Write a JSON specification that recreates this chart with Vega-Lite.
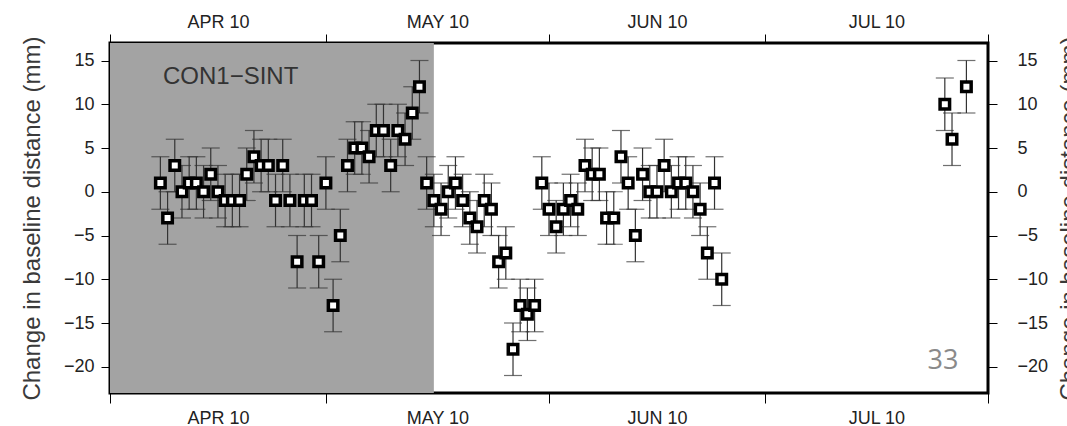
{
  "$schema": "https://vega.github.io/schema/vega-lite/v6.json",
  "width": 878,
  "height": 350,
  "autosize": {"type": "none"},
  "padding": {"left": 110, "top": 43, "right": 79, "bottom": 33},
  "background": "white",
  "config": {
    "font": "Liberation Sans",
    "view": {"stroke": "black", "strokeWidth": 3},
    "axis": {"grid": false, "domain": false, "tickColor": "black", "tickWidth": 1, "labelColor": "#222", "labelFont": "Liberation Sans", "labelFontSize": 18, "titleFont": "Liberation Sans", "titleFontWeight": "normal", "titleColor": "#3a3a3a", "titleFontSize": 24, "labelOverlap": false, "labelFlush": false}
  },
  "datasets": {
    "obs": [
      {"date": "2010-04-08", "value": 1, "err": 3},
      {"date": "2010-04-09", "value": -3, "err": 3},
      {"date": "2010-04-10", "value": 3, "err": 3},
      {"date": "2010-04-11", "value": 0, "err": 3},
      {"date": "2010-04-12", "value": 1, "err": 3},
      {"date": "2010-04-13", "value": 1, "err": 3},
      {"date": "2010-04-14", "value": 0, "err": 3},
      {"date": "2010-04-15", "value": 2, "err": 3},
      {"date": "2010-04-16", "value": 0, "err": 3},
      {"date": "2010-04-17", "value": -1, "err": 3},
      {"date": "2010-04-18", "value": -1, "err": 3},
      {"date": "2010-04-19", "value": -1, "err": 3},
      {"date": "2010-04-20", "value": 2, "err": 3},
      {"date": "2010-04-21", "value": 4, "err": 3},
      {"date": "2010-04-22", "value": 3, "err": 3},
      {"date": "2010-04-23", "value": 3, "err": 3},
      {"date": "2010-04-24", "value": -1, "err": 3},
      {"date": "2010-04-25", "value": 3, "err": 3},
      {"date": "2010-04-26", "value": -1, "err": 3},
      {"date": "2010-04-27", "value": -8, "err": 3},
      {"date": "2010-04-28", "value": -1, "err": 3},
      {"date": "2010-04-29", "value": -1, "err": 3},
      {"date": "2010-04-30", "value": -8, "err": 3},
      {"date": "2010-05-01", "value": 1, "err": 3},
      {"date": "2010-05-02", "value": -13, "err": 3},
      {"date": "2010-05-03", "value": -5, "err": 3},
      {"date": "2010-05-04", "value": 3, "err": 3},
      {"date": "2010-05-05", "value": 5, "err": 3},
      {"date": "2010-05-06", "value": 5, "err": 3},
      {"date": "2010-05-07", "value": 4, "err": 3},
      {"date": "2010-05-08", "value": 7, "err": 3},
      {"date": "2010-05-09", "value": 7, "err": 3},
      {"date": "2010-05-10", "value": 3, "err": 3},
      {"date": "2010-05-11", "value": 7, "err": 3},
      {"date": "2010-05-12", "value": 6, "err": 3},
      {"date": "2010-05-13", "value": 9, "err": 3},
      {"date": "2010-05-14", "value": 12, "err": 3},
      {"date": "2010-05-15", "value": 1, "err": 3},
      {"date": "2010-05-16", "value": -1, "err": 3},
      {"date": "2010-05-17", "value": -2, "err": 3},
      {"date": "2010-05-18", "value": 0, "err": 3},
      {"date": "2010-05-19", "value": 1, "err": 3},
      {"date": "2010-05-20", "value": -1, "err": 3},
      {"date": "2010-05-21", "value": -3, "err": 3},
      {"date": "2010-05-22", "value": -4, "err": 3},
      {"date": "2010-05-23", "value": -1, "err": 3},
      {"date": "2010-05-24", "value": -2, "err": 3},
      {"date": "2010-05-25", "value": -8, "err": 3},
      {"date": "2010-05-26", "value": -7, "err": 3},
      {"date": "2010-05-27", "value": -18, "err": 3},
      {"date": "2010-05-28", "value": -13, "err": 3},
      {"date": "2010-05-29", "value": -14, "err": 3},
      {"date": "2010-05-30", "value": -13, "err": 3},
      {"date": "2010-05-31", "value": 1, "err": 3},
      {"date": "2010-06-01", "value": -2, "err": 3},
      {"date": "2010-06-02", "value": -4, "err": 3},
      {"date": "2010-06-03", "value": -2, "err": 3},
      {"date": "2010-06-04", "value": -1, "err": 3},
      {"date": "2010-06-05", "value": -2, "err": 3},
      {"date": "2010-06-06", "value": 3, "err": 3},
      {"date": "2010-06-07", "value": 2, "err": 3},
      {"date": "2010-06-08", "value": 2, "err": 3},
      {"date": "2010-06-09", "value": -3, "err": 3},
      {"date": "2010-06-10", "value": -3, "err": 3},
      {"date": "2010-06-11", "value": 4, "err": 3},
      {"date": "2010-06-12", "value": 1, "err": 3},
      {"date": "2010-06-13", "value": -5, "err": 3},
      {"date": "2010-06-14", "value": 2, "err": 3},
      {"date": "2010-06-15", "value": 0, "err": 3},
      {"date": "2010-06-16", "value": 0, "err": 3},
      {"date": "2010-06-17", "value": 3, "err": 3},
      {"date": "2010-06-18", "value": 0, "err": 3},
      {"date": "2010-06-19", "value": 1, "err": 3},
      {"date": "2010-06-20", "value": 1, "err": 3},
      {"date": "2010-06-21", "value": 0, "err": 3},
      {"date": "2010-06-22", "value": -2, "err": 3},
      {"date": "2010-06-23", "value": -7, "err": 3},
      {"date": "2010-06-24", "value": 1, "err": 3},
      {"date": "2010-06-25", "value": -10, "err": 3},
      {"date": "2010-07-26", "value": 10, "err": 3},
      {"date": "2010-07-27", "value": 6, "err": 3},
      {"date": "2010-07-29", "value": 12, "err": 3}
    ]
  },
  "layer": [
    {
      "data": {"values": [{"start": "2010-04-01", "end": "2010-05-16"}]},
      "mark": {"type": "rect", "color": "#a3a3a3"},
      "encoding": {
        "x": {
          "field": "start", "type": "temporal",
          "scale": {"type": "utc", "nice": false, "domain": [{"year": 2010, "month": 4, "date": 1, "utc": true}, {"year": 2010, "month": 8, "date": 1, "utc": true}]},
          "axis": {"orient": "bottom", "title": null, "labels": false, "ticks": true, "tickSize": 10,
            "values": [{"year": 2010, "month": 4, "date": 1, "utc": true}, {"year": 2010, "month": 5, "date": 1, "utc": true}, {"year": 2010, "month": 6, "date": 1, "utc": true}, {"year": 2010, "month": 7, "date": 1, "utc": true}, {"year": 2010, "month": 8, "date": 1, "utc": true}]}
        },
        "x2": {"field": "end"}
      }
    },
    {
      "data": {"name": "obs"},
      "mark": {"type": "errorbar", "color": "#333", "ticks": {"size": 18, "thickness": 1.2}, "rule": {"strokeWidth": 1.2}},
      "encoding": {
        "x": {
          "field": "date", "type": "temporal",
          "axis": {"orient": "top", "title": null, "labels": false, "ticks": true, "tickSize": 9,
            "values": [{"year": 2010, "month": 4, "date": 1, "utc": true}, {"year": 2010, "month": 5, "date": 1, "utc": true}, {"year": 2010, "month": 6, "date": 1, "utc": true}, {"year": 2010, "month": 7, "date": 1, "utc": true}, {"year": 2010, "month": 8, "date": 1, "utc": true}]}
        },
        "y": {
          "field": "value", "type": "quantitative",
          "scale": {"domain": [-23, 17], "nice": false, "zero": false},
          "axis": {"orient": "left", "title": "Change in baseline distance (mm)", "values": [-20, -15, -10, -5, 0, 5, 10, 15], "tickSize": 9, "labelPadding": 7, "titlePadding": 19}
        },
        "yError": {"field": "err"}
      }
    },
    {
      "data": {"name": "obs"},
      "mark": {"type": "point", "shape": "square", "size": 90, "filled": true, "fill": "white", "stroke": "black", "strokeWidth": 3.5, "opacity": 1},
      "encoding": {
        "x": {
          "field": "date", "type": "temporal",
          "axis": {"orient": "bottom", "title": null, "ticks": false, "labelPadding": 16,
            "values": [{"year": 2010, "month": 4, "date": 16, "utc": true}, {"year": 2010, "month": 5, "date": 16, "hours": 12, "utc": true}, {"year": 2010, "month": 6, "date": 16, "utc": true}, {"year": 2010, "month": 7, "date": 16, "hours": 12, "utc": true}],
            "labelExpr": "upper(utcFormat(datum.value, '%b %y'))"}
        },
        "y": {
          "field": "value", "type": "quantitative",
          "axis": {"orient": "right", "title": "Change in baseline distance (mm)", "titleAngle": 270, "values": [-20, -15, -10, -5, 0, 5, 10, 15], "tickSize": 9, "labelPadding": 20, "titlePadding": 34}
        }
      }
    },
    {
      "data": {"values": [{"date": "2010-04-08T08:40:00Z", "value": 13.1, "label": "CON1−SINT"}]},
      "mark": {"type": "text", "align": "left", "baseline": "middle", "fontSize": 24, "font": "Liberation Sans", "color": "#333"},
      "encoding": {
        "x": {
          "field": "date", "type": "temporal",
          "axis": {"orient": "top", "title": null, "ticks": false, "labelPadding": 12,
            "values": [{"year": 2010, "month": 4, "date": 16, "utc": true}, {"year": 2010, "month": 5, "date": 16, "hours": 12, "utc": true}, {"year": 2010, "month": 6, "date": 16, "utc": true}, {"year": 2010, "month": 7, "date": 16, "hours": 12, "utc": true}],
            "labelExpr": "upper(utcFormat(datum.value, '%b %y'))"}
        },
        "y": {"field": "value", "type": "quantitative", "axis": null},
        "text": {"field": "label"}
      }
    },
    {
      "data": {"values": [{"date": "2010-07-25T17:45:00Z", "value": -19.3, "label": "33"}]},
      "mark": {"type": "text", "align": "center", "baseline": "middle", "fontSize": 27, "font": "Open Sans", "color": "#8a8a8a"},
      "encoding": {
        "x": {"field": "date", "type": "temporal", "axis": null},
        "y": {"field": "value", "type": "quantitative", "axis": null},
        "text": {"field": "label"}
      }
    }
  ],
  "resolve": {"axis": {"x": "independent", "y": "independent"}}
}
